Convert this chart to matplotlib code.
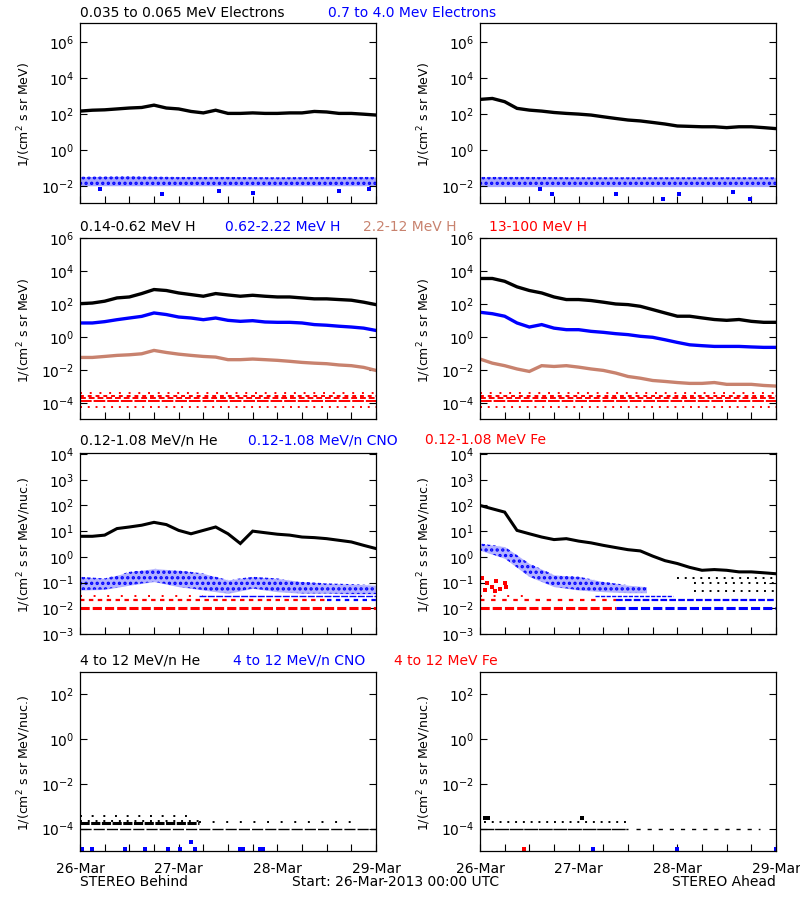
import numpy as np
import matplotlib.pyplot as plt
from matplotlib.ticker import FixedLocator, NullLocator, LogFormatterSciNotation

plt.rcParams['font.family'] = ['DejaVu Sans']
plt.rcParams['font.size'] = 10
plt.rcParams['hatch.linewidth'] = 1.6

TAN = '#c8826e'

### Data (hours since 26-Mar-2013 00:00 UTC)
t3 = np.arange(0, 73, 3)
t6 = np.arange(0, 73, 6)
t12 = [0, 12, 24, 36, 48, 60, 72]

# row 1 : electrons
e_lo_b = [141, 158, 166, 186, 209, 224, 302, 209, 186, 135, 112, 158, 105,
          105, 112, 105, 105, 112, 112, 135, 126, 105, 105, 95, 85]
e_lo_a = [630, 710, 470, 200, 160, 141, 118, 105, 96, 85, 68, 55, 45, 40, 33,
          27, 21, 20, 19, 19, 17, 19, 19, 17, 15]
e_hi_b_top = [0.032, 0.034, 0.031, 0.031, 0.030, 0.031, 0.031]
e_hi_b_bot = [0.010, 0.010, 0.010, 0.010, 0.010, 0.010, 0.010]
e_hi_a_top = [0.031, 0.031, 0.030, 0.030, 0.030, 0.030, 0.030]
e_hi_a_bot = [0.009, 0.009, 0.009, 0.009, 0.009, 0.009, 0.009]
e_hi_b_out_t = [4.9, 20.0, 33.7, 42.2, 62.9, 70.4]
e_hi_b_out_v = [0.0067, 0.0037, 0.0052, 0.0042, 0.0052, 0.0068]
e_hi_a_out_t = [14.6, 17.4, 33.2, 44.6, 48.3, 61.6, 65.7]
e_hi_a_out_v = [0.0068, 0.0037, 0.0037, 0.0018, 0.0037, 0.0047, 0.0018]

# row 2 : protons
h1_b = [110, 120, 155, 245, 280, 450, 790, 690, 490, 390, 310, 450, 370, 310,
        355, 310, 280, 280, 245, 215, 215, 195, 178, 135, 96]
h2_b = [7.4, 7.4, 8.9, 11.7, 14.8, 18.6, 30, 24, 17, 14.8, 11.7, 14.8, 10.7,
        9.3, 10.2, 8.5, 8.1, 8.1, 7.4, 5.9, 5.4, 4.7, 4.2, 3.6, 2.6]
h3_b = [0.06, 0.06, 0.069, 0.08, 0.087, 0.1, 0.16, 0.12, 0.095, 0.08, 0.069,
        0.063, 0.044, 0.044, 0.048, 0.044, 0.04, 0.035, 0.03, 0.027, 0.025,
        0.021, 0.019, 0.015, 0.0098]
h1_a = [3700, 3700, 2500, 1150, 690, 490, 280, 195, 195, 170, 135, 105, 96,
        76, 48, 30, 19, 19, 15, 12, 10.7, 12, 9.3, 8.1, 8.1]
h2_a = [33, 27, 19, 7.4, 4.2, 5.9, 3.6, 2.9, 2.9, 2.3, 2.0, 1.66, 1.45, 1.15,
        1.0, 0.71, 0.49, 0.35, 0.31, 0.28, 0.28, 0.28, 0.26, 0.245, 0.245]
h3_a = [0.048, 0.027, 0.019, 0.012, 0.0085, 0.019, 0.017, 0.019, 0.0155,
        0.012, 0.0098, 0.0068, 0.0042, 0.0033, 0.0024, 0.0021, 0.0018, 0.0016,
        0.0016, 0.0018, 0.0014, 0.0014, 0.0014, 0.0012, 0.0011]
h4_levels = [6.3e-5, 1.3e-4, 2.0e-4, 2.8e-4, 4.0e-4]

# row 3 : 0.12-1.08 MeV/n ions
he_b = [6.3, 6.3, 7, 12.6, 14.5, 17, 22, 18, 10.7, 7.9, 10.7, 14.5, 7.9, 3.3,
        10, 8.7, 7.6, 7, 5.9, 5.6, 5.1, 4.4, 3.8, 2.8, 2.1]
he_a = [100, 74, 55, 10.7, 7.9, 5.9, 4.7, 5.1, 4.1, 3.5, 2.8, 2.3, 1.9, 1.7,
        1.07, 0.71, 0.55, 0.39, 0.3, 0.32, 0.3, 0.26, 0.26, 0.24, 0.22]
cno_b_top = [0.168, 0.145, 0.26, 0.35, 0.30, 0.226, 0.126, 0.168, 0.145,
             0.108, 0.093, 0.087, 0.079]
cno_b_bot = [0.051, 0.054, 0.079, 0.108, 0.069, 0.051, 0.038, 0.059, 0.044,
             0.038, 0.038, 0.036, 0.036]
cno_a_t = [0, 6, 12, 18, 24, 30, 36, 40.5]
cno_a_top = [3.3, 2.5, 0.55, 0.2, 0.17, 0.108, 0.079, 0.069]
cno_a_bot = [1.8, 0.87, 0.17, 0.069, 0.051, 0.044, 0.04, 0.04]
fe_a_t = [0.4, 1.2, 1.6, 2.8, 3.6, 4.0, 4.9, 6.1, 6.3]
fe_a_v = [0.145, 0.052, 0.093, 0.069, 0.046, 0.12, 0.055, 0.093, 0.069]
# quantized floors : (level, start h, end h)
floor_b_red = [(0.01, 0, 72), (0.021, 0, 60), (0.031, 0, 30)]
floor_b_blue = [(0.021, 60, 72), (0.031, 29, 72)]
floor_a_red = [(0.01, 0, 33), (0.021, 0, 33), (0.031, 0, 13)]
floor_a_blue = [(0.01, 33, 72), (0.021, 33, 72), (0.031, 28, 47)]
floor_a_black = [(0.145, 48, 72), (0.093, 52, 72), (0.047, 52, 72)]

# row 4 : 4-12 MeV/n ions
he4_b_levels = [(1.0e-4, 0, 72), (1.87e-4, 0, 29), (2.3e-4, 0, 29),
                (3.5e-4, 0, 27), (2.0e-4, 29, 67)]
cno4_b_t = [0.4, 2.8, 10.9, 15.8, 21.5, 24.3, 26.9, 28, 38.9, 39.7, 43.8, 44.6]
cno4_b_v = [1.2e-5, 1.2e-5, 1.2e-5, 1.2e-5, 1.2e-5, 1.2e-5, 2.5e-5, 1.2e-5,
            1.2e-5, 1.2e-5, 1.2e-5, 1.2e-5]
he4_a_levels = [(1.0e-4, 0, 36), (1.0e-4, 38, 68), (2.0e-4, 1, 36)]
he4_a_t = [1.2, 2.0, 24.7]
he4_a_v = [2.9e-4, 2.9e-4, 2.9e-4]
cno4_a_t = [27.4, 48, 72]
cno4_a_v = [1.2e-5, 1.2e-5, 1.2e-5]
fe4_a_t = [10.7]
fe4_a_v = [1.2e-5]

days = ['26-Mar', '27-Mar', '28-Mar', '29-Mar']


def curve(ax, x, y, c, lw=2.4):
    ax.plot(x, y, color=c, lw=lw, solid_joinstyle='miter')


def level(ax, lv, c, dash, lw=1.3):
    ax.plot([lv[1], lv[2]], [lv[0], lv[0]], color=c, lw=lw, ls=(0, dash))


def dots(ax, x, y, c, ms=2.2):
    ax.plot(x, y, 's', color=c, ms=ms, mew=0)


def band(ax, x, lo, hi, c, alpha=0.35):
    # scatter cloud -> light fill + dotted hatch
    ax.fill_between(x, lo, hi, color=c, alpha=alpha, lw=0)
    ax.fill_between(x, lo, hi, facecolor='none', edgecolor=c, hatch='...', lw=0)


### Layout
fig = plt.figure(figsize=(8, 9), dpi=100)
lefts = [0.1, 0.6]
rows = [(0.7744, 0.200), (0.5344, 0.2011), (0.2956, 0.2011), (0.0544, 0.1989)]
ylims = [(1.1e-3, 1.1e7), (1.1e-5, 1.05e6), (1e-3, 1.1e4), (1e-5, 1e3)]
yticks = [[1e-2, 1e0, 1e2, 1e4, 1e6], [1e-4, 1e-2, 1e0, 1e2, 1e4, 1e6],
          [1e-3, 1e-2, 1e-1, 1e0, 1e1, 1e2, 1e3, 1e4], [1e-4, 1e-2, 1e0, 1e2]]
ylabels = [r'1/(cm$^2$ s sr MeV)', r'1/(cm$^2$ s sr MeV)',
           r'1/(cm$^2$ s sr MeV/nuc.)', r'1/(cm$^2$ s sr MeV/nuc.)']

axes = [[None, None] for _ in range(4)]
for r in range(4):
    for c in range(2):
        ax = fig.add_axes([lefts[c], rows[r][0], 0.37, rows[r][1]])
        ax.set_yscale('log')
        ax.set_xlim(0, 72)
        ax.set_ylim(*ylims[r])
        ax.yaxis.set_major_locator(FixedLocator(yticks[r]))
        ax.yaxis.set_minor_locator(NullLocator())
        ax.yaxis.set_major_formatter(LogFormatterSciNotation())
        ax.xaxis.set_major_locator(FixedLocator([0, 24, 48, 72]))
        ax.xaxis.set_minor_locator(FixedLocator(np.arange(0, 73, 6)))
        ax.tick_params(which='both', direction='in', length=5, width=0.8,
                       right=True, top=False, labelsize=10, pad=4)
        if r == 3:
            ax.set_xticklabels(days)
            ax.tick_params(axis='x', pad=8)
        else:
            ax.set_xticklabels([])
        for s in ax.spines.values():
            s.set_linewidth(0.9)
        ax.set_ylabel(ylabels[r], fontsize=9)
        ax.yaxis.set_label_coords(-0.16, 0.49)
        axes[r][c] = ax

# row 1
ax = axes[0][0]
curve(ax, t3, e_lo_b, 'black')
band(ax, t12, e_hi_b_bot, e_hi_b_top, 'blue')
dots(ax, e_hi_b_out_t, e_hi_b_out_v, 'blue')
ax = axes[0][1]
curve(ax, t3, e_lo_a, 'black')
band(ax, t12, e_hi_a_bot, e_hi_a_top, 'blue')
dots(ax, e_hi_a_out_t, e_hi_a_out_v, 'blue')

# row 2
dash_h4 = [(1, 3), (6, 1), (3, 1.5), (2, 2), (1, 4)]
for ax, h1, h2, h3 in [(axes[1][0], h1_b, h2_b, h3_b),
                       (axes[1][1], h1_a, h2_a, h3_a)]:
    curve(ax, t3, h1, 'black')
    curve(ax, t3, h2, 'blue')
    curve(ax, t3, h3, TAN)
    for lv, d in zip(h4_levels, dash_h4):
        level(ax, (lv, 0, 72), 'red', d, lw=1.4)

# row 3
ax = axes[2][0]
curve(ax, t3, he_b, 'black', lw=2.2)
band(ax, t6, cno_b_bot, cno_b_top, 'blue', alpha=0.3)
level(ax, floor_b_red[0], 'red', (3, 1), lw=2.2)
level(ax, floor_b_red[1], 'red', (2, 2), lw=1.6)
level(ax, floor_b_red[2], 'red', (1, 6), lw=1.4)
level(ax, floor_b_blue[0], 'blue', (2, 2), lw=1.6)
level(ax, floor_b_blue[1], 'blue', (5, 1), lw=1.0)

ax = axes[2][1]
curve(ax, t3, he_a, 'black', lw=2.2)
band(ax, cno_a_t, cno_a_bot, cno_a_top, 'blue', alpha=0.3)
dots(ax, fe_a_t, fe_a_v, 'red', ms=3)
level(ax, floor_a_red[0], 'red', (3, 1), lw=2.2)
level(ax, floor_a_red[1], 'red', (2, 3), lw=1.6)
level(ax, floor_a_red[2], 'red', (1, 6), lw=1.4)
level(ax, floor_a_blue[0], 'blue', (3, 1), lw=2.2)
level(ax, floor_a_blue[1], 'blue', (3, 1), lw=1.6)
level(ax, floor_a_blue[2], 'blue', (3, 1), lw=1.0)
for lv in floor_a_black:
    level(ax, lv, 'black', (1, 3), lw=1.4)

# row 4
ax = axes[3][0]
dash_he4 = [(8, 1.5), (3, 0.5), (1, 3), (1, 5), (1, 6)]
lw_he4 = [1.0, 2.2, 1.4, 1.4, 1.4]
for lv, d, w in zip(he4_b_levels, dash_he4, lw_he4):
    level(ax, lv, 'black', d, lw=w)
dots(ax, cno4_b_t, cno4_b_v, 'blue')

ax = axes[3][1]
level(ax, he4_a_levels[0], 'black', (10, 0.5), lw=1.0)
level(ax, he4_a_levels[1], 'black', (3, 5), lw=1.0)
level(ax, he4_a_levels[2], 'black', (1, 3), lw=1.4)
dots(ax, he4_a_t, he4_a_v, 'black')
dots(ax, cno4_a_t, cno4_a_v, 'blue')
dots(ax, fe4_a_t, fe4_a_v, 'red')

### Titles
def label(x, y, s, c):
    fig.text(x / 800, 1 - y / 900, s, color=c, fontsize=10, ha='left', va='center')

label(80, 13, '0.035 to 0.065 MeV Electrons', 'black')
label(328, 13, '0.7 to 4.0 Mev Electrons', 'blue')
label(80, 227, '0.14-0.62 MeV H', 'black')
label(225, 227, '0.62-2.22 MeV H', 'blue')
label(363, 227, '2.2-12 MeV H', TAN)
label(489, 227, '13-100 MeV H', 'red')
label(80, 440, '0.12-1.08 MeV/n He', 'black')
label(248, 440, '0.12-1.08 MeV/n CNO', 'blue')
label(425, 440, '0.12-1.08 MeV Fe', 'red')
label(80, 661, '4 to 12 MeV/n He', 'black')
label(233, 661, '4 to 12 MeV/n CNO', 'blue')
label(394, 661, '4 to 12 MeV Fe', 'red')

label(80, 882, 'STEREO Behind', 'black')
label(292, 882, 'Start: 26-Mar-2013 00:00 UTC', 'black')
fig.text(776 / 800, 1 - 882 / 900, 'STEREO Ahead', color='black', fontsize=10,
         ha='right', va='center')

fig.savefig('out.png', dpi=100)
